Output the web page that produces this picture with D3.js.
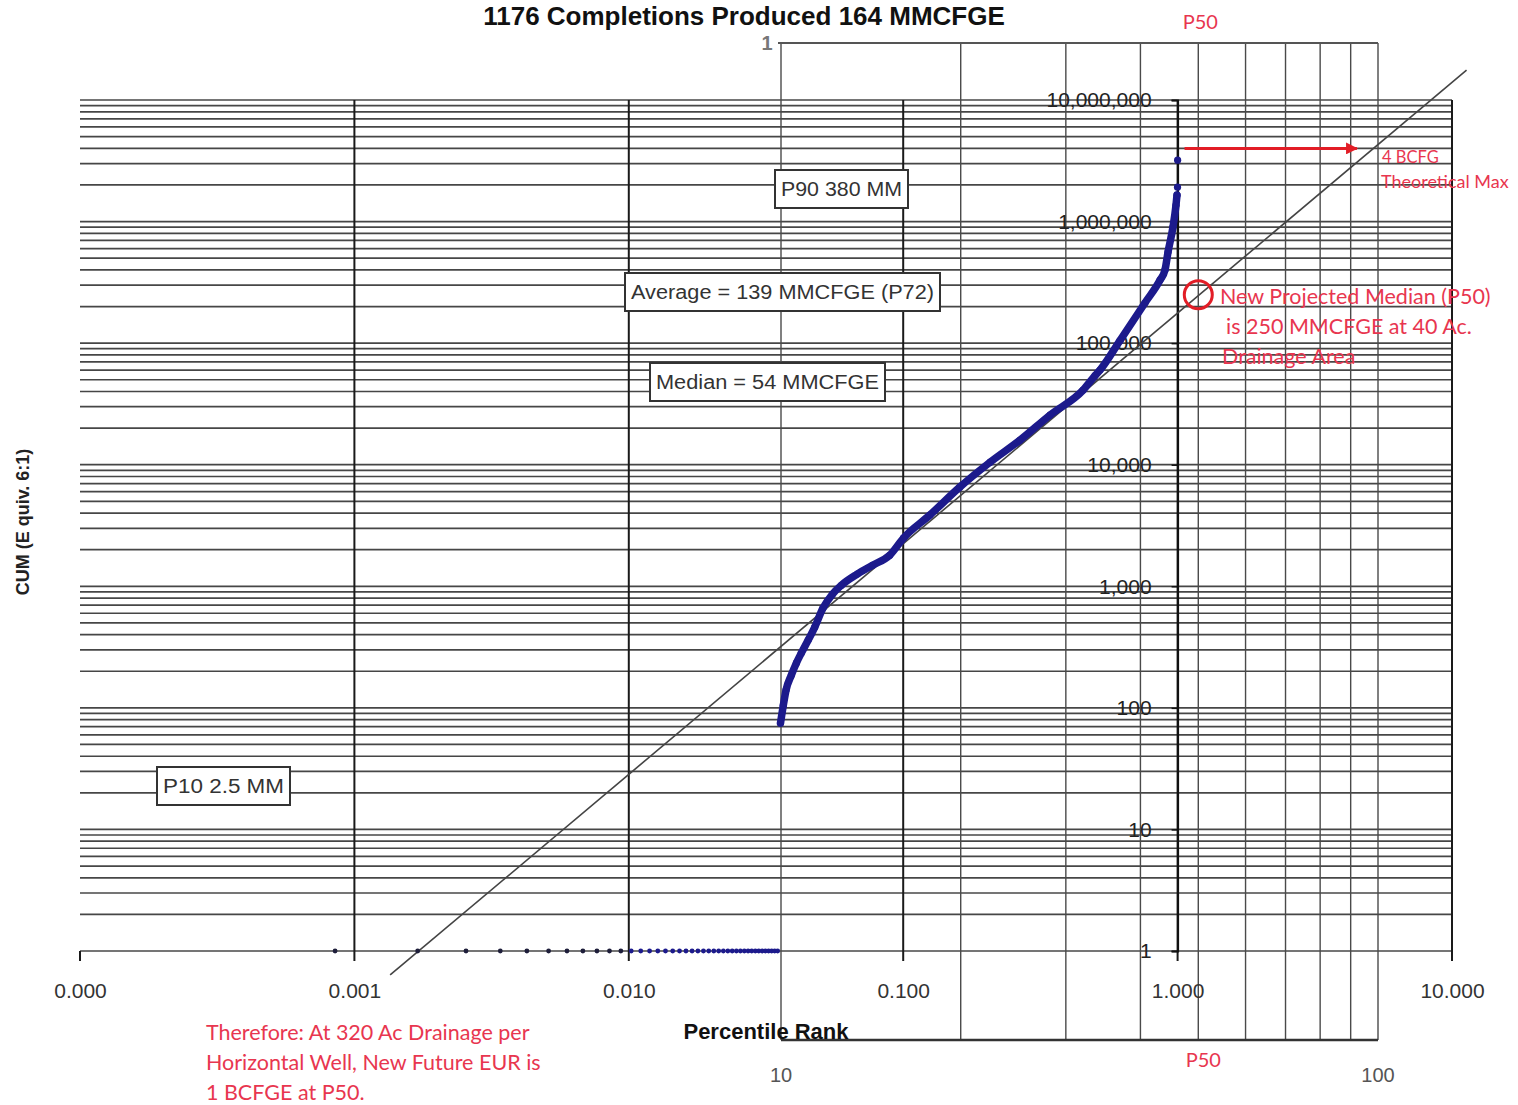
<!DOCTYPE html>
<html>
<head>
<meta charset="utf-8">
<script src="https://cdn.jsdelivr.net/npm/d3@7"></script>
<style>
  body { margin: 0; background: #fff; }
  svg { display: block; }
</style>
</head>
<body>
<svg id="chart" width="1518" height="1105"></svg>
<script>
// ---- data ---------------------------------------------------------------
const TOTAL_WELLS = 1176;

// completion rank (1 = smallest) and cumulative production, MCFGE
const wellRanks = [
  1, 2, 3, 4, 5, 6, 7, 8, 9, 10, 11, 12, 13, 14, 15, 16, 17, 18, 19, 20,
  21, 22, 23, 24, 25, 26, 27, 28, 29, 30, 31, 32, 33, 34, 35, 36, 37, 38, 39, 40, 41,
  42, 43, 44, 46, 48, 50, 53, 56, 60, 65, 70, 80, 91, 105, 118, 147, 189, 244,
  313, 403, 532, 588, 613, 725, 895, 1015, 1058, 1085, 1131, 1160, 1170, 1175, 1176
];
const cumValues = [
  1, 1, 1, 1, 1, 1, 1, 1, 1, 1, 1, 1, 1, 1, 1, 1, 1, 1, 1, 1,
  1, 1, 1, 1, 1, 1, 1, 1, 1, 1, 1, 1, 1, 1, 1, 1, 1, 1, 1, 1, 1,
  75, 105, 140, 186, 234, 282, 361, 462, 662, 863, 1020, 1260, 1490, 1800, 2500, 3850, 6540, 10500,
  15900, 25600, 41100, 54000, 60000, 105000, 215000, 330000, 400000, 560000, 900000, 1360000, 1650000, 1920000, 3200000
];

const xTickValues = [0.0001, 0.001, 0.01, 0.1, 1, 10];
const yTickValues = [1, 10, 100, 1000, 10000, 100000, 1000000, 10000000];

// overlaid percentile frame
const percentDomain = [10, 100];
const percentLabelValues = [10, 100];

// theoretical trend line end points (percentile rank, MCFGE)
const trendX = [0.00135, 11.3];
const trendY = [0.635, 17600000];

// theoretical maximum arrow
const maxArrowX = [1.06, 4.5];
const theoreticalMax = 4000000;

// projected median marker (percent, MCFGE)
const projectedMedianPct = 50;
const projectedMedianCum = 250000;

// statistic call-outs
const statBoxes = [
  { text: "P90 380 MM", x: 775, y: 170, w: 133, h: 38 },
  { text: "Average = 139 MMCFGE (P72)", x: 625, y: 273, w: 315, h: 38 },
  { text: "Median = 54 MMCFGE", x: 650, y: 363, w: 235, h: 38 },
  { text: "P10 2.5 MM", x: 157, y: 767, w: 133, h: 38 }
];

// ---- drawing ------------------------------------------------------------
const svg = d3.select("#chart");
const W = 1518, H = 1105;
svg.append("rect").attr("width", W).attr("height", H).attr("fill", "#fff");

const x = d3.scaleLog().domain([0.0001, 10]).range([80, 1452]);
const y = d3.scaleLog().domain([1, 10000000]).range([951, 100]);
const px = d3.scaleLog().domain(percentDomain).range([781, 1378]);
const frameTop = 43, frameBottom = 1040;

const sans = "'Liberation Sans', Arial, sans-serif";
const red = "#e8364f";

// horizontal log grid (every minor value)
const grid = svg.append("g");
grid.selectAll("line.h")
  .data(y.ticks())
  .join("line")
  .attr("class", "h")
  .attr("x1", x.range()[0]).attr("x2", x.range()[1])
  .attr("y1", d => y(d)).attr("y2", d => y(d))
  .attr("stroke", "#262626")
  .attr("stroke-width", 1.7)
  .attr("stroke-opacity", 0.85);

// vertical decade grid with ticks below the axis
grid.selectAll("line.v")
  .data(xTickValues)
  .join("line")
  .attr("class", "v")
  .attr("x1", d => x(d)).attr("x2", d => x(d))
  .attr("y1", d => d === 0.0001 ? y(1) : y.range()[1])
  .attr("y2", y(1) + 10)
  .attr("stroke", "#1a1a1a")
  .attr("stroke-width", 2);

// percentile frame
const frame = svg.append("g");
frame.selectAll("line.pv")
  .data(px.ticks())
  .join("line")
  .attr("class", "pv")
  .attr("x1", d => px(d)).attr("x2", d => px(d))
  .attr("y1", frameTop).attr("y2", frameBottom)
  .attr("stroke", "#4a4a4a")
  .attr("stroke-width", 1.4);
frame.append("line")
  .attr("x1", px(percentDomain[0]) - 3).attr("x2", px(percentDomain[1]))
  .attr("y1", frameTop).attr("y2", frameTop)
  .attr("stroke", "#555").attr("stroke-width", 2.2);
frame.append("line")
  .attr("x1", px(percentDomain[0])).attr("x2", px(percentDomain[1]))
  .attr("y1", frameBottom).attr("y2", frameBottom)
  .attr("stroke", "#333").attr("stroke-width", 2.6);
frame.append("text")
  .attr("x", px(percentDomain[0]) - 14).attr("y", frameTop + 7)
  .attr("text-anchor", "middle")
  .attr("font-family", sans).attr("font-size", 20).attr("font-weight", "bold")
  .attr("fill", "#777")
  .text("1");
frame.selectAll("text.pl")
  .data(percentLabelValues)
  .join("text")
  .attr("class", "pl")
  .attr("x", d => px(d)).attr("y", 1082)
  .attr("text-anchor", "middle")
  .attr("font-family", sans).attr("font-size", 20)
  .attr("fill", "#555")
  .text(d => d3.format("d")(d));

// y axis at percentile rank 1.0
const yAxis = d3.axisLeft(y)
  .tickValues(yTickValues)
  .tickFormat(d3.format(","))
  .tickSize(6)
  .tickPadding(20);
const yAxisG = svg.append("g")
  .attr("transform", `translate(${x(1)},0)`)
  .call(yAxis);
yAxisG.select(".domain").attr("stroke", "#111").attr("stroke-width", 2);
yAxisG.selectAll(".tick line").attr("stroke", "#111").attr("stroke-width", 1.5);
yAxisG.selectAll(".tick text")
  .attr("font-family", sans).attr("font-size", 21)
  .attr("fill", "#222");

// x axis labels
const xAxis = d3.axisBottom(x)
  .tickValues(xTickValues)
  .tickFormat(d3.format(".3f"))
  .tickSize(0)
  .tickPadding(32);
const xAxisG = svg.append("g")
  .attr("transform", `translate(0,${y(1)})`)
  .call(xAxis);
xAxisG.select(".domain").remove();
xAxisG.selectAll(".tick text")
  .attr("font-family", sans).attr("font-size", 21)
  .attr("fill", "#333");

// theoretical trend line
svg.append("line")
  .attr("x1", x(trendX[0])).attr("y1", y(trendY[0]))
  .attr("x2", x(trendX[1])).attr("y2", y(trendY[1]))
  .attr("stroke", "#444").attr("stroke-width", 1.6);

// completions
const wells = wellRanks.map((r, i) => ({ p: r / TOTAL_WELLS, cum: cumValues[i] }));
const rising = wells.filter(d => d.cum > 1 && d.p < 0.999);
svg.append("path")
  .datum(rising)
  .attr("d", d3.line().x(d => x(d.p)).y(d => y(d.cum)).curve(d3.curveMonotoneX))
  .attr("fill", "none")
  .attr("stroke", "#1c1a8c")
  .attr("stroke-width", 7.5)
  .attr("stroke-linecap", "round")
  .attr("stroke-linejoin", "round");
svg.append("g").selectAll("circle")
  .data(wells)
  .join("circle")
  .attr("cx", d => x(d.p))
  .attr("cy", d => y(d.cum))
  .attr("r", d => d.cum === 1 ? 2.4 : 3.6)
  .attr("fill", d => d.cum === 1 && d.p < 0.01 ? "#1e1e3a" : "#1c1a8c");

// statistic boxes
const boxes = svg.append("g").selectAll("g")
  .data(statBoxes)
  .join("g");
boxes.append("rect")
  .attr("x", d => d.x).attr("y", d => d.y)
  .attr("width", d => d.w).attr("height", d => d.h)
  .attr("fill", "#fff")
  .attr("stroke", "#333").attr("stroke-width", 2);
boxes.append("text")
  .attr("x", d => d.x + d.w / 2).attr("y", d => d.y + d.h / 2 + 7)
  .attr("text-anchor", "middle")
  .attr("font-family", sans).attr("font-size", 20)
  .attr("fill", "#333")
  .attr("textLength", d => d.w - 12)
  .attr("lengthAdjust", "spacingAndGlyphs")
  .text(d => d.text);

// theoretical maximum arrow
const defs = svg.append("defs");
defs.append("marker")
  .attr("id", "arrowHead")
  .attr("viewBox", "0 0 10 10")
  .attr("refX", 9).attr("refY", 5)
  .attr("markerWidth", 7).attr("markerHeight", 4)
  .attr("markerUnits", "strokeWidth")
  .attr("orient", "auto")
  .append("path").attr("d", "M0,0L10,5L0,10Z").attr("fill", "#e21d26");
svg.append("line")
  .attr("x1", x(maxArrowX[0])).attr("x2", x(maxArrowX[1]))
  .attr("y1", y(theoreticalMax)).attr("y2", y(theoreticalMax))
  .attr("stroke", "#e21d26").attr("stroke-width", 3)
  .attr("marker-end", "url(#arrowHead)");

// projected median marker
svg.append("circle")
  .attr("cx", px(projectedMedianPct)).attr("cy", y(projectedMedianCum))
  .attr("r", 14)
  .attr("fill", "none")
  .attr("stroke", "#e21d26").attr("stroke-width", 3);

// red notes
const noteFont = "Lato, 'Open Sans', sans-serif";
function note(lines, x0, y0, size, lineHeight, anchor) {
  const t = svg.append("text")
    .attr("font-family", noteFont).attr("font-size", size)
    .attr("fill", red)
    .attr("text-anchor", anchor || "start");
  lines.forEach((s, i) => {
    t.append("tspan")
      .attr("x", Array.isArray(x0) ? x0[i] : x0)
      .attr("y", y0 + i * lineHeight)
      .text(s);
  });
}
note(["P50"], px(projectedMedianPct) + 2, 29, 20, 0, "middle");
note(["P50"], px(projectedMedianPct) + 5, 1067, 20, 0, "middle");
note(["4 BCFG"], 1382, 163, 16.5, 0);
note(["Theoretical Max"], 1381, 188, 18, 0);
note(["New Projected Median (P50)", "is 250 MMCFGE at 40 Ac.", "Drainage Area"],
     [1220, 1226, 1222], 304, 21.5, 30);
note(["Therefore: At 320 Ac Drainage per", "Horizontal Well, New Future EUR is", "1 BCFGE at P50."],
     206, 1040, 21.5, 30);

// titles
svg.append("text")
  .attr("x", 744).attr("y", 25)
  .attr("text-anchor", "middle")
  .attr("font-family", sans).attr("font-weight", "bold").attr("font-size", 26)
  .attr("fill", "#111")
  .text("1176 Completions Produced 164 MMCFGE");
svg.append("text")
  .attr("transform", "translate(29,522) rotate(-90)")
  .attr("text-anchor", "middle")
  .attr("font-family", sans).attr("font-weight", "bold").attr("font-size", 18)
  .attr("fill", "#222")
  .text("CUM (E quiv. 6:1)");
svg.append("text")
  .attr("x", 766).attr("y", 1039)
  .attr("text-anchor", "middle")
  .attr("font-family", sans).attr("font-weight", "bold").attr("font-size", 22)
  .attr("fill", "#111")
  .text("Percentile Rank");
</script>
</body>
</html>
